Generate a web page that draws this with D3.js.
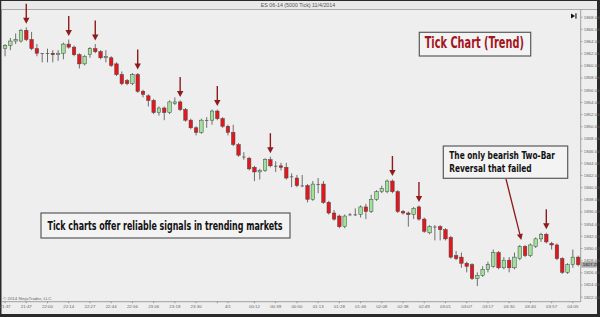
<!DOCTYPE html>
<html>
<head>
<meta charset="utf-8">
<script src="https://cdn.jsdelivr.net/npm/d3@7"></script>
<style>
  body { margin: 0; background: #fff; }
  svg { display: block; }
</style>
</head>
<body>
<svg id="chart" width="600" height="317"></svg>
<script>
// ES 06-14 (5000 Tick) bars
const opens = [
  1862.75, 1863.25, 1864, 1864, 1865.75, 1864.25, 1862.75, 1862, 1862, 1862,
  1861.75, 1862, 1863.5, 1863, 1861.75, 1860.25, 1861.75, 1862.75, 1862.25, 1861.25,
  1861.25, 1860.25, 1858.5, 1857.5, 1857, 1858.5, 1855.75, 1855, 1854.25, 1852.25,
  1853, 1852.25, 1853.75, 1854, 1852.75, 1851, 1849.75, 1849, 1851, 1851,
  1852.5, 1851.25, 1850, 1849, 1847, 1845, 1844.75, 1843.25, 1842.5, 1842.75,
  1844.5, 1843.5, 1843.5, 1843.25, 1841.75, 1841.5, 1840.25, 1840.25, 1838, 1840.5,
  1840.5, 1837.5, 1835.75, 1835.25, 1833.5, 1835.5, 1835.5, 1835.5, 1836.75, 1836,
  1838, 1839.25, 1839.25, 1841, 1839.25, 1836, 1835.75, 1835.5, 1836.75, 1834.75,
  1832.5, 1833.5, 1833.5, 1833, 1831.75, 1828.75, 1828.5, 1827.5, 1827.25, 1825,
  1825.5, 1826.5, 1827, 1829.25, 1826.75, 1828, 1826.75, 1828.25, 1830.25, 1828.75,
  1830.25, 1831.5, 1832.25, 1830.75, 1830.5, 1828.25, 1826, 1827.25, 1828.5
];
const highs = [
  1863.5, 1864.5, 1865.25, 1866, 1866.25, 1865.5, 1863.5, 1862, 1862.75, 1862.5,
  1862.5, 1863.75, 1864.25, 1863.25, 1862, 1861.75, 1863, 1863.5, 1862.5, 1862.5,
  1861.5, 1860.5, 1859, 1857.75, 1858.75, 1858.75, 1856, 1855.25, 1854.5, 1853.25,
  1853.25, 1854.25, 1854.75, 1854.25, 1853, 1851.25, 1850, 1851.25, 1851.5, 1852.75,
  1852.75, 1851.5, 1850.25, 1850.25, 1847.25, 1845.75, 1845, 1843.5, 1843, 1844.75,
  1845, 1844.25, 1844, 1844, 1842.25, 1842, 1842, 1840.5, 1841, 1841.5,
  1841, 1837.75, 1836.25, 1835.5, 1835.5, 1835.75, 1836.5, 1837, 1837.25, 1838.75,
  1839.5, 1840.25, 1841.25, 1841.25, 1839.5, 1836.25, 1836, 1836.75, 1837, 1835,
  1833.75, 1833.75, 1833.75, 1833.25, 1832, 1829.5, 1829.25, 1827.75, 1827.5, 1826,
  1827, 1827.75, 1829.75, 1829.5, 1828.5, 1828.5, 1829.25, 1830.5, 1830.5, 1830.75,
  1831.75, 1832.5, 1832.5, 1831, 1830.75, 1828.5, 1827.5, 1829.75, 1828.75
];
const lows = [
  1861.5, 1862.5, 1863.5, 1863.75, 1864, 1862.5, 1861.5, 1860.5, 1860.5, 1860.5,
  1860.75, 1861, 1862.75, 1861.5, 1859.5, 1860, 1861.25, 1862, 1861, 1860.5,
  1859.75, 1858.25, 1856.75, 1856.75, 1856.75, 1855.5, 1854.75, 1853.25, 1852, 1851.75,
  1851, 1852, 1853.5, 1852.5, 1850.75, 1849.5, 1848.5, 1848.75, 1849.75, 1850.25,
  1851, 1849.75, 1848.5, 1846.75, 1845, 1844.5, 1842.75, 1841, 1841.25, 1842.5,
  1843.25, 1842.5, 1842.75, 1841.25, 1840, 1840, 1840, 1837.5, 1837.75, 1839,
  1837.25, 1835.5, 1834.5, 1833.25, 1833.25, 1835.25, 1835.25, 1835, 1834.75, 1835.75,
  1837.75, 1839, 1839, 1839, 1835.75, 1835.5, 1833.5, 1834.75, 1834.5, 1832.5,
  1832.25, 1831.25, 1831.25, 1831.25, 1828.25, 1828, 1826.75, 1826, 1824.75, 1823.75,
  1825.25, 1826, 1826.75, 1826.5, 1826.5, 1826, 1826.5, 1828, 1828.5, 1828.5,
  1830, 1831, 1830.75, 1829.75, 1828, 1825.75, 1825.75, 1826.75, 1827
];
const closes = [
  1863.25, 1864, 1864.25, 1865.75, 1864.25, 1862.75, 1862, 1862, 1862, 1861.75,
  1862, 1863.5, 1863, 1861.75, 1860.25, 1861.5, 1862.75, 1862.25, 1861.25, 1861.5,
  1860, 1858.5, 1857, 1857, 1858.5, 1855.75, 1855.25, 1854.25, 1852.25, 1853,
  1852.25, 1854, 1854, 1852.75, 1851, 1849.75, 1849, 1851, 1851, 1852.5,
  1851.25, 1850, 1849, 1847, 1845.25, 1845, 1843, 1842.5, 1842.75, 1844.5,
  1843.5, 1843.5, 1843.25, 1841.5, 1841.75, 1840.25, 1840.25, 1838, 1840.5, 1840.5,
  1837.5, 1835.75, 1834.75, 1833.5, 1835.25, 1835.5, 1835.5, 1836.75, 1836, 1838,
  1839.25, 1839.75, 1841, 1839.25, 1836, 1835.75, 1835.5, 1836.5, 1834.75, 1832.75,
  1833.5, 1833.5, 1833, 1831.5, 1828.5, 1828.25, 1827.5, 1827, 1825, 1825.5,
  1826.5, 1827.25, 1829.25, 1826.75, 1828, 1826.75, 1828.5, 1830.25, 1828.75, 1830.5,
  1831.5, 1832.25, 1831, 1830.5, 1828.25, 1826, 1827.25, 1828.5, 1827.25
];

const timeTickBars = [0, 4, 8, 12, 16, 20, 24, 28, 32, 36, 40, 42, 47, 51, 55, 59, 63, 67,
  71, 75, 79, 83, 87, 91, 95, 99, 103, 107];
const timeTickLabels = ["21:37", "21:47", "22:00", "22:14", "22:27", "22:44", "22:56", "23:06",
  "23:18", "23:30", "", "4/1", "00:12", "00:39", "00:50", "01:13", "01:28", "01:46",
  "02:08", "02:38", "02:49", "03:01", "03:07", "03:17", "03:30", "03:40", "03:57", "04:05"];
const priceTicks = d3.range(1822, 1869, 2);
const arrowBars = [4, 12, 17, 25, 33, 40, 50, 73, 78, 102];
const failedBar = 97;
const lastPrice = 1827.25;

const svg = d3.select("#chart");
const W = 600, H = 317;
const plotLeft = 2, plotRight = 580.7, plotTop = 9.5, plotBottom = 301.7;

const bars = d3.range(opens.length);
const x = d3.scaleBand().domain(bars).range([2.4, 580.8]).padding(0);
const y = d3.scaleLinear().domain([1822, 1868]).range([296.7, 16.7]);
const cx = i => x(i) + x.bandwidth() / 2;
const bodyW = x.bandwidth() * 0.66;

// frame + backgrounds
svg.append("rect").attr("width", W).attr("height", H).attr("fill", "#2a2a2a");
svg.append("rect").attr("x", 1.5).attr("y", 1).attr("width", 595.5).attr("height", 313)
  .attr("fill", "#eeeeee");
svg.append("rect").attr("x", 1.5).attr("y", 1).attr("width", 595.5).attr("height", 8.5)
  .attr("fill", "#e9e9e9");
svg.append("line").attr("x1", 1.5).attr("x2", 597).attr("y1", 9.5).attr("y2", 9.5)
  .attr("stroke", "#9a9a9a").attr("stroke-width", 0.8);
svg.append("text").attr("x", 298).attr("y", 7)
  .attr("text-anchor", "middle")
  .style("font", "5.3px 'Liberation Sans', Arial, sans-serif").attr("fill", "#555")
  .text("ES 06-14 (5000 Tick) 11/4/2014");

// axes lines
svg.append("line").attr("x1", plotRight).attr("x2", plotRight).attr("y1", plotTop).attr("y2", plotBottom)
  .attr("stroke", "#8a8a8a").attr("stroke-width", 0.8);
svg.append("line").attr("x1", plotLeft).attr("x2", plotRight).attr("y1", plotBottom).attr("y2", plotBottom)
  .attr("stroke", "#8a8a8a").attr("stroke-width", 0.8);

const yAxis = d3.axisRight(y).tickValues(priceTicks).tickFormat(d3.format(".2f"))
  .tickSize(2).tickSizeOuter(0).tickPadding(1);
const yG = svg.append("g").attr("transform", `translate(${plotRight},0)`).call(yAxis);
yG.select(".domain").remove();
yG.selectAll("line").attr("stroke", "#777").attr("stroke-width", 0.5);
yG.selectAll("text").attr("fill", "#666")
  .style("font", "4.4px 'Liberation Sans', Arial, sans-serif");

const xAxis = d3.axisBottom(x).tickValues(timeTickBars)
  .tickFormat((d, k) => timeTickLabels[k]).tickSize(1.5).tickSizeOuter(0).tickPadding(1.5);
const xG = svg.append("g").attr("transform", `translate(0,${plotBottom})`).call(xAxis);
xG.select(".domain").remove();
xG.selectAll("line").attr("stroke", "#666").attr("stroke-width", 0.6);
xG.selectAll("text").attr("fill", "#666")
  .style("font", "4.4px 'Liberation Sans', Arial, sans-serif");

svg.append("text").attr("x", 3).attr("y", 299.6)
  .style("font", "4.4px 'Liberation Sans', Arial, sans-serif").attr("fill", "#666")
  .text("\u00a9 2014 NinjaTrader, LLC");

// ▶| icon
svg.append("path").attr("d", "M571,13.5 L575,16 L571,18.5 Z").attr("fill", "#111");
svg.append("rect").attr("x", 575.4).attr("y", 13.3).attr("width", 1.1).attr("height", 5.4).attr("fill", "#111");

// candles
const candles = svg.append("g");
candles.selectAll("line.wick").data(bars).join("line")
  .attr("class", "wick")
  .attr("x1", cx).attr("x2", cx)
  .attr("y1", i => y(highs[i])).attr("y2", i => y(lows[i]))
  .attr("stroke", "#4d4d4d").attr("stroke-width", 0.8);

candles.selectAll("rect.body").data(bars).join("rect")
  .attr("class", "body")
  .attr("x", i => cx(i) - bodyW / 2)
  .attr("width", bodyW)
  .attr("y", i => y(Math.max(opens[i], closes[i])))
  .attr("height", i => Math.max(Math.abs(y(opens[i]) - y(closes[i])), 0.7))
  .attr("fill", i => closes[i] > opens[i] ? "#9fe39b" : closes[i] < opens[i] ? "#e5161d" : "#4d4d4d")
  .attr("stroke", i => closes[i] === opens[i] ? "none" : "#444")
  .attr("stroke-width", 0.5);

// current price marker
svg.append("rect").attr("x", plotRight + 0.5).attr("y", y(lastPrice) - 2.8)
  .attr("width", 15.5).attr("height", 5.6).attr("fill", "#a9a9a9");
svg.append("text").attr("x", plotRight + 2).attr("y", y(lastPrice) + 1.5)
  .style("font", "4.4px 'Liberation Sans', Arial, sans-serif").attr("fill", "#222")
  .text(d3.format(".2f")(lastPrice));

// signal arrows
const arrowColor = "#8e1c1c";
const arrows = svg.append("g");
arrowBars.forEach(i => {
  const tip = y(highs[i]) - 3.5;
  arrows.append("line").attr("x1", cx(i)).attr("x2", cx(i))
    .attr("y1", tip - 20).attr("y2", tip - 5)
    .attr("stroke", arrowColor).attr("stroke-width", 1.4);
  arrows.append("path")
    .attr("d", `M${cx(i) - 3.2},${tip - 6} L${cx(i) + 3.2},${tip - 6} L${cx(i)},${tip} Z`)
    .attr("fill", arrowColor);
});

// annotation arrow to the failed reversal
const fx = cx(failedBar) + 1.5, fy = y(highs[failedBar]) - 5;
const sx = 506, sy = 179;
const ang = Math.atan2(fy - sy, fx - sx);
const hx = fx - 6 * Math.cos(ang), hy = fy - 6 * Math.sin(ang);
svg.append("line").attr("x1", sx).attr("y1", sy).attr("x2", hx).attr("y2", hy)
  .attr("stroke", arrowColor).attr("stroke-width", 1.3);
svg.append("path")
  .attr("d", `M${fx},${fy} L${hx + 3 * Math.sin(ang)},${hy - 3 * Math.cos(ang)} L${hx - 3 * Math.sin(ang)},${hy + 3 * Math.cos(ang)} Z`)
  .attr("fill", arrowColor);

// text boxes: condensed look by sizing the font to the width and stretching vertically
const narrow = "'Liberation Sans Narrow', 'DejaVu Sans Condensed', 'Liberation Sans', Arial, sans-serif";
function box(x0, y0, w, h) {
  svg.append("rect").attr("x", x0).attr("y", y0).attr("width", w).attr("height", h)
    .attr("fill", "#f3f3f3").attr("stroke", "#5a5a5a").attr("stroke-width", 1.2);
}
function label(txt, x0, yb, size, len, color, weight) {
  const g = svg.append("g");
  const t = g.append("text").attr("x", 0).attr("y", 0)
    .style("font-family", narrow).style("font-size", size + "px").style("font-weight", weight)
    .attr("fill", color).text(txt);
  const natural = t.node().getComputedTextLength();
  const fs = size * len / natural;
  t.style("font-size", fs + "px");
  g.attr("transform", `translate(${x0},${yb}) scale(1,${size / fs})`);
}

box(419.3, 32.3, 111.4, 23.7);
label("Tick Chart (Trend)", 424.7, 47.8, 16, 99.3, "#a3161c", "bold");

box(443.3, 146, 124.4, 32.3);
label("The only bearish Two-Bar", 449.3, 159.3, 11, 105.7, "#111", "bold");
label("Reversal that failed", 449.3, 172.3, 11, 82.4, "#111", "bold");

box(41, 213, 249, 25);
label("Tick charts offer reliable signals in trending markets", 47.5, 230, 12.5, 235.5, "#111", "bold");
</script>
</body>
</html>
